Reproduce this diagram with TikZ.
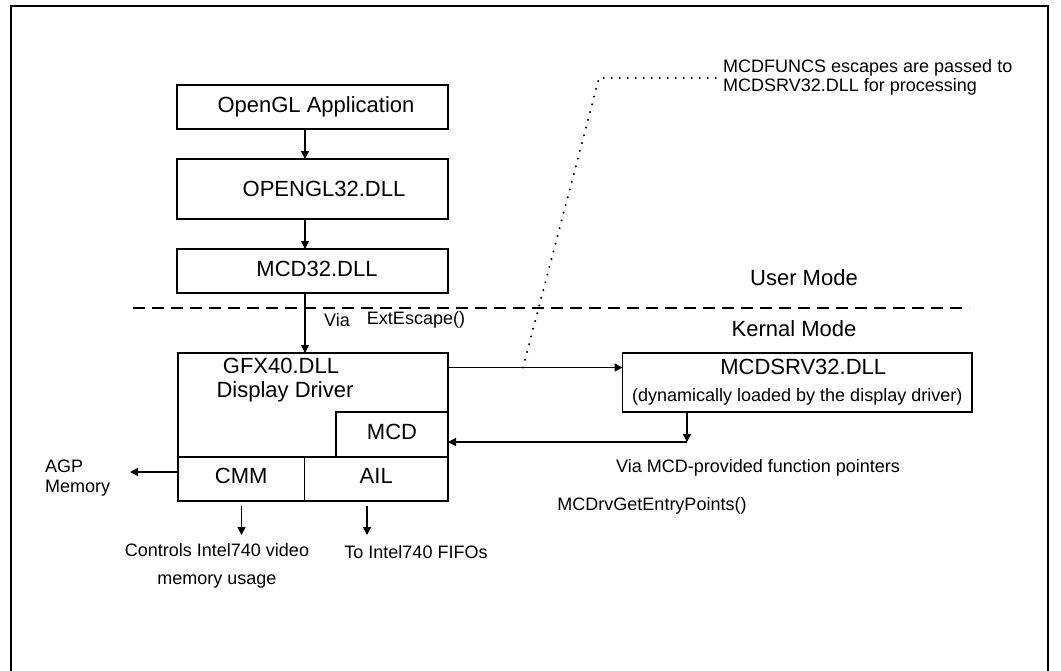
\documentclass[tikz,border=0pt]{standalone}
\usepackage{fontspec}
\setmainfont{Liberation Sans}
\usetikzlibrary{arrows.meta}
\newcommand\bigtxt{\fontsize{22}{26}\selectfont}
\newcommand\smalltxt{\fontsize{18}{20}\selectfont}
\begin{document}
\begin{tikzpicture}[x=1pt,y=-1pt,
  box/.style={draw, line width=1.5pt, inner sep=0pt, outer sep=0pt, font=\bigtxt},
  lbl/.style={inner sep=0pt, font=\smalltxt},
  biglbl/.style={inner sep=0pt, font=\bigtxt},
  arr/.style={line width=1.5pt, -{Triangle[length=8pt,width=8pt]}},
  modeline/.style={line width=1.6pt, dash pattern=on 12pt off 7pt},
  dotline/.style={line width=2.2pt, dash pattern=on 0.1pt off 7.9pt, line cap=round}]
\useasboundingbox (0,0) rectangle (1061,670);
% frame
\draw[line width=2pt] (11,680) -- (11,6) -- (1048,6) -- (1048,680);

% boxes
\node[box, minimum width=271pt, minimum height=44pt] (app) at (312.5,107) {\hspace{7pt}OpenGL Application};
\node[box, minimum width=271pt, minimum height=60pt] (ogl) at (312.5,189) {\hspace{23pt}\raisebox{-3pt}{OPENGL32.DLL}};
\node[box, minimum width=271pt, minimum height=44pt] (mcdll) at (312.5,271) {\hspace{9pt}\raisebox{4pt}{MCD32.DLL}};
\node[box, minimum width=270pt, minimum height=104pt] (gfx) at (313,405) {};
\node[biglbl, align=center] (gfxlbl) at (281,380) {GFX40.DLL\\[-2pt]\hspace{8pt}Display Driver};
\node[box, minimum width=112pt, minimum height=45pt] (mcd) at (392,434.5) {\raisebox{6pt}{MCD}};
\node[box, minimum width=126.5pt, minimum height=44pt] (cmm) at (241.25,479) {\raisebox{6pt}{CMM}};
\node[box, minimum width=143.5pt, minimum height=44pt] (ail) at (376.25,479) {\raisebox{6pt}{AIL}};
\node[box, minimum width=349.5pt, minimum height=59pt, align=center] (srv) at (797.25,382.5)
  {\hspace{12pt}MCDSRV32.DLL\\[1pt]{\smalltxt (dynamically loaded by the display driver)}};

% mode separator
\coordinate (dl) at (133,308);
\coordinate (dr) at (969,308);
\draw[modeline] (dl) -- (dr);
\node[biglbl] (user) at (804,278) {User Mode};
\node[biglbl] (kern) at (794,329) {Kernal Mode};

% labels
\node[lbl] (via) at (337,320) {Via};
\node[lbl] (ext) at (416,320) {ExtEscape()};
\node[lbl, align=left, anchor=west] (agp) at (45,478) {AGP\\Memory};
\node[lbl, align=center] (ctrl) at (217,566) {Controls Intel740 video\\[7.5pt]memory usage};
\node[lbl] (fifo) at (416,552.5) {To Intel740 FIFOs};
\node[lbl] (via2) at (758,468) {Via MCD-provided function pointers};
\node[lbl] (entry) at (652,505.5) {MCDrvGetEntryPoints()};
\node[lbl, align=left, anchor=west, font=\fontsize{18}{18.5}\selectfont] (note) at (723,77.5)
  {MCDFUNCS escapes are passed to\\MCDSRV32.DLL for processing};

% connectors
\coordinate (ax) at (305,0);
\draw[arr] (app.south -| ax) -- (ogl.north -| ax);
\draw[arr] (ogl.south -| ax) -- (mcdll.north -| ax);
\draw[arr] (mcdll.south -| ax) -- (gfx.north -| ax);

\coordinate (ay) at (0,367.5);
\draw[arr] (gfx.east |- ay) -- (srv.west |- ay);

\coordinate (dotstart) at (523,367.5);
\coordinate (dotcorner) at (599,78);
\coordinate (dotend) at (717,78);
\draw[dotline] (dotstart) -- (dotcorner) -- (dotend);

\coordinate (retc) at (687,442);
\draw[arr] (srv.south -| retc) -- (retc);
\draw[arr] (retc) -- (mcd.east |- retc);

\coordinate (agpend) at (130,472);
\draw[arr] (cmm.west |- agpend) -- (agpend);

\coordinate (cd1) at (241.5,506);
\coordinate (cd2) at (241.5,535);
\draw[arr] (cd1) -- (cd2);
\coordinate (ad1) at (367,506);
\coordinate (ad2) at (367,535);
\draw[arr] (ad1) -- (ad2);
\end{tikzpicture}
\end{document}
